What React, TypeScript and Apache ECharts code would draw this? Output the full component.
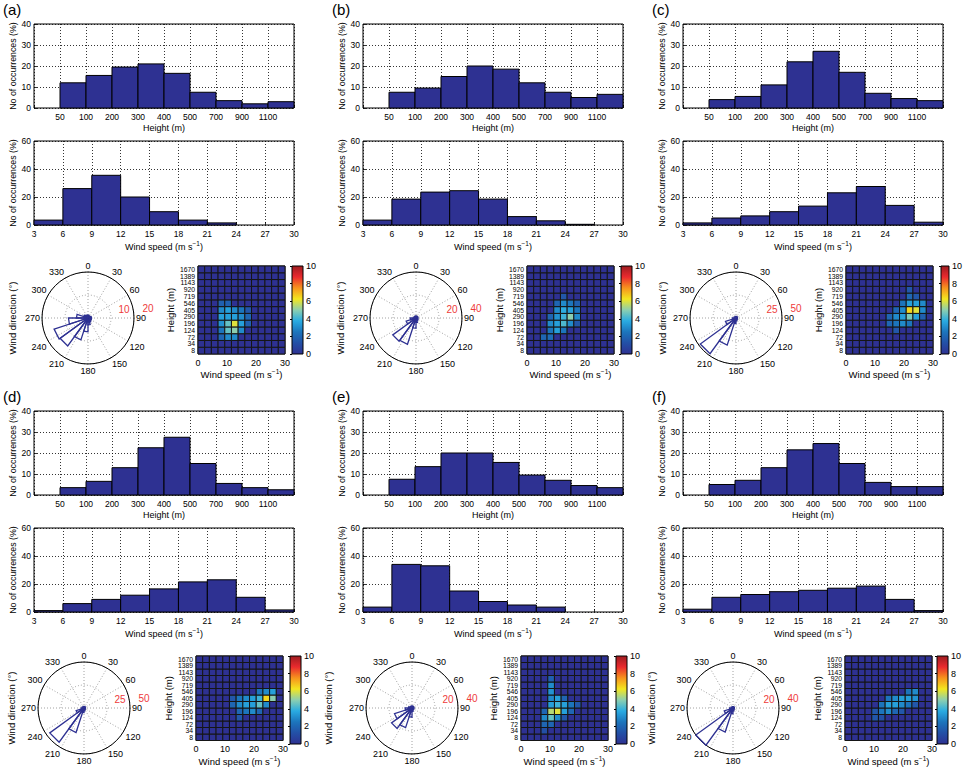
import React, { useEffect, useRef } from "react";
import * as echarts from "echarts";

const FONT = '"Liberation Sans", Arial, Helvetica, sans-serif';
const BAR_COLOR = "#2e3192";
const JET_COLORS = ["#2e3192", "#2350a6", "#1c75bc", "#29abe2", "#8ccfb0", "#f3e620", "#f7941d", "#ea2a2e", "#9e1c20"];

const PANEL_LABELS = ["(a)", "(b)", "(c)", "(d)", "(e)", "(f)"];
const HEIGHT_BIN_EDGES = ["50", "100", "200", "300", "400", "500", "700", "900", "1100"];
const WIND_BIN_STARTS = [3, 6, 9, 12, 15, 18, 21, 24, 27];
const HEAT_HEIGHTS = ["8", "34", "72", "124", "196", "290", "405", "546", "719", "920", "1143", "1389", "1670"];
const HEAT_COLS = 13;
const HEAT_BG = 0;
const ROSE_BIN_DEG = 18;

// Height histograms (% per bin: <50, 50-100, 100-200, ..., >1100)
const HEIGHT_HIST_A = [0, 12, 15.5, 19.5, 21, 16.5, 7.5, 3.5, 2, 3];
const HEIGHT_HIST_B = [0, 7.5, 9.5, 15, 20, 18.5, 12, 7.5, 5, 6.5];
const HEIGHT_HIST_C = [0, 4, 5.5, 11, 22, 27, 17, 7, 4.5, 3.5];
const HEIGHT_HIST_D = [0, 3.5, 6.5, 13, 22.5, 27.5, 15, 5.5, 3.5, 2.5];
const HEIGHT_HIST_E = [0, 7.5, 13.5, 20, 20, 15.5, 9.5, 7, 4.5, 3.5];
const HEIGHT_HIST_F = [0, 5, 7, 13, 21.5, 24.5, 15, 6, 4, 4];

// Wind speed histograms (% per 3 m/s bin from 3 to 30)
const WIND_HIST_A = [3.5, 26, 35.5, 20, 9.5, 3.5, 1.5, 0, 0];
const WIND_HIST_B = [3.5, 18.5, 23.5, 24.5, 18.5, 6, 3, 0.5, 0];
const WIND_HIST_C = [1.5, 5, 6.5, 9.5, 13.5, 23, 27.5, 14, 2];
const WIND_HIST_D = [1, 6, 9, 12, 16.5, 21.5, 23, 10.5, 1.5];
const WIND_HIST_E = [3.5, 34, 33, 15, 7.5, 5, 3.5, 0, 0];
const WIND_HIST_F = [2, 10.5, 12.5, 14.5, 15.5, 17, 18.5, 9, 1];

// Wind roses: 20 bins of 18 degrees starting at 0
const ROSE_A = [1.2, 1, 1, 1.2, 1.5, 1.5, 1.5, 1.5, 2, 3, 6, 10, 15, 15.5, 8.5, 5, 2, 1.5, 1.2, 1.2];
const ROSE_B = [1.5, 1.5, 1.5, 1.5, 1.5, 1.5, 1.5, 2, 2.5, 4, 9, 24, 25, 9, 5, 2, 1.5, 1.5, 1.5, 1.5];
const ROSE_C = [1.5, 1.5, 1.5, 1.5, 1.5, 1.5, 1.5, 1.5, 2, 3, 6, 31, 48, 12, 4, 2, 1.5, 1.5, 1.5, 1.5];
const ROSE_D = [1.5, 1.5, 1.5, 1.5, 1.5, 1.5, 1.5, 1.5, 2, 3, 5, 28, 46, 9, 3, 2, 1.5, 1.5, 1.5, 1.5];
const ROSE_E = [1.5, 1.5, 1.5, 1.5, 1.5, 1.5, 1.5, 1.5, 2, 3, 8, 18, 22, 16, 6, 3, 2, 1.5, 1.5, 1.5];
const ROSE_F = [1, 1, 1, 1, 1, 1, 1, 1, 1.5, 2.5, 5, 22, 40, 8, 3, 1.5, 1, 1, 1, 1];
const ROSE_MAX = [20, 40, 50, 50, 40, 40];

// Joint frequency cells: [wind column, height row (from bottom), value]
const HEAT_A = [
  [3, 7, 1.8], [4, 7, 1.8],
  [3, 6, 3], [4, 6, 3.5], [5, 6, 3], [6, 6, 2.5], [7, 6, 1.5],
  [3, 5, 3.5], [4, 5, 3.5], [5, 5, 3.5], [6, 5, 3], [7, 5, 2],
  [3, 4, 3.2], [4, 4, 4.5], [5, 4, 6], [6, 4, 3.5], [7, 4, 1.8],
  [3, 3, 2.5], [4, 3, 4.5], [5, 3, 5], [6, 3, 3],
  [3, 2, 2], [4, 2, 3], [5, 2, 3],
];
const HEAT_B = [
  [5, 8, 1.5],
  [4, 7, 2], [5, 7, 3], [6, 7, 2.5], [7, 7, 1.8],
  [4, 6, 3], [5, 6, 3.8], [6, 6, 3.5], [7, 6, 2.5],
  [3, 5, 2], [4, 5, 3.2], [5, 5, 4], [6, 5, 5], [7, 5, 3],
  [3, 4, 3], [4, 4, 3.5], [5, 4, 4.2], [6, 4, 3], [7, 4, 1.5],
  [3, 3, 2.5], [4, 3, 3.5], [5, 3, 2.5],
  [2, 2, 2], [3, 2, 2.2],
];
const HEAT_C = [
  [9, 9, 1.5],
  [9, 8, 2], [10, 8, 1.5],
  [8, 7, 2.5], [9, 7, 3.5], [10, 7, 3.5], [11, 7, 3],
  [7, 6, 2], [8, 6, 3], [9, 6, 6.5], [10, 6, 6], [11, 6, 3],
  [6, 5, 2], [7, 5, 3], [8, 5, 3.5], [9, 5, 4.8], [10, 5, 3.5], [11, 5, 1.8],
  [6, 4, 2], [7, 4, 2.5], [8, 4, 3], [9, 4, 2.5],
  [7, 3, 1.5],
];
const HEAT_D = [
  [9, 7, 2.5], [10, 7, 3], [11, 7, 3.5],
  [5, 6, 1.5], [6, 6, 2.5], [7, 6, 3], [8, 6, 3.5], [9, 6, 4], [10, 6, 6.5], [11, 6, 5],
  [5, 5, 2], [6, 5, 3], [7, 5, 3.5], [8, 5, 3.5], [9, 5, 4.5], [10, 5, 3],
  [6, 4, 2], [7, 4, 2.5], [8, 4, 3], [9, 4, 2],
  [6, 3, 1.5],
];
const HEAT_E = [
  [4, 9, 1.8],
  [4, 8, 3],
  [4, 7, 3.2],
  [4, 6, 3], [5, 6, 3.5], [6, 6, 2],
  [4, 5, 3.5], [5, 5, 4], [6, 5, 3.5], [7, 5, 2.5], [8, 5, 1.5],
  [3, 4, 2], [4, 4, 5.5], [5, 4, 6], [6, 4, 3.5], [7, 4, 2],
  [3, 3, 3], [4, 3, 4.5], [5, 3, 3], [6, 3, 1.5],
  [3, 2, 2], [4, 2, 2],
  [3, 1, 1.2],
];
const HEAT_F = [
  [9, 7, 2.5], [10, 7, 3],
  [6, 6, 2.5], [7, 6, 3], [8, 6, 3.5], [9, 6, 3.5], [10, 6, 3.2],
  [5, 5, 2.5], [6, 5, 3.5], [7, 5, 3.5], [8, 5, 3], [9, 5, 2.5], [10, 5, 1.5],
  [4, 4, 1.5], [5, 4, 2.5], [6, 4, 3], [7, 4, 2], [8, 4, 1.5],
  [4, 3, 1.5], [5, 3, 1.2],
];

const PANELS = [
  { heightHist: HEIGHT_HIST_A, windHist: WIND_HIST_A, rose: ROSE_A, heat: HEAT_A },
  { heightHist: HEIGHT_HIST_B, windHist: WIND_HIST_B, rose: ROSE_B, heat: HEAT_B },
  { heightHist: HEIGHT_HIST_C, windHist: WIND_HIST_C, rose: ROSE_C, heat: HEAT_C },
  { heightHist: HEIGHT_HIST_D, windHist: WIND_HIST_D, rose: ROSE_D, heat: HEAT_D },
  { heightHist: HEIGHT_HIST_E, windHist: WIND_HIST_E, rose: ROSE_E, heat: HEAT_E },
  { heightHist: HEIGHT_HIST_F, windHist: WIND_HIST_F, rose: ROSE_F, heat: HEAT_F },
];

// Layout
const COL_X = [0, 329, 649];
const ROW_Y = [0, 387];
const HEAT_LEFT = [[198, 527, 846], [196, 521, 845]];
const HEAT_TOP = [266, 656];
const CBAR_LEFT = [[292, 621, 941], [290, 616, 937]];
const ROSE_CX = [[88, 416, 736], [84, 412, 733]];
const ROSE_CY = [318, 708];
const ROSE_R = 46;
const WDIR_LABEL_X = [[12, 340, 662], [11, 328, 651]];

const txt = (size: number) => ({ fontFamily: FONT, fontSize: size, color: "#000" });
const dotted = { show: true, lineStyle: { color: "#000", type: [1, 2], width: 0.8 } };
const inTick = { show: true, inside: true, length: 3, lineStyle: { color: "#000", width: 0.8 } };

function renderBar(params: any, api: any) {
  const x0 = api.value(0), x1 = api.value(1), v = api.value(2);
  if (!(v > 0)) return { type: "group", children: [] };
  const p0 = api.coord([x0, 0]);
  const p1 = api.coord([x1, v]);
  return {
    type: "rect",
    shape: { x: p0[0], y: p1[1], width: p1[0] - p0[0], height: p0[1] - p1[1] },
    style: { fill: BAR_COLOR, stroke: "#000", lineWidth: 1 },
  };
}

function renderCell(params: any, api: any) {
  const col = api.value(0), row = api.value(1);
  const w = 30 / HEAT_COLS;
  const pA = api.coord([col * w, row]);
  const pB = api.coord([(col + 1) * w, row]);
  const h = api.size([0, 1])[1];
  return {
    type: "rect",
    shape: { x: pA[0], y: pA[1] - h / 2, width: pB[0] - pA[0], height: h },
    style: { fill: api.visual("color"), stroke: "#151515", lineWidth: 1 },
  };
}

function renderColorbar(params: any, api: any) {
  const p0 = api.coord([api.value(0), api.value(1)]);
  const p1 = api.coord([api.value(2), api.value(3)]);
  const stops = JET_COLORS.map((c, k) => ({ offset: k / (JET_COLORS.length - 1), color: c }));
  return {
    type: "rect",
    shape: { x: p0[0], y: p1[1], width: p1[0] - p0[0], height: p0[1] - p1[1] },
    style: { fill: { type: "linear", x: 0, y: 1, x2: 0, y2: 0, colorStops: stops, global: false } },
  };
}

function renderWedge(params: any, api: any) {
  const v = api.value(0), a = api.value(1);
  if (!(v > 0)) return { type: "group", children: [] };
  const c = api.coord([0, a]);
  const p1 = api.coord([v, a]);
  const p2 = api.coord([v, a + ROSE_BIN_DEG]);
  return {
    type: "polygon",
    shape: { points: [c, p1, p2] },
    style: { fill: "none", stroke: BAR_COLOR, lineWidth: 1.3 },
  };
}

function buildOption() {
  const grid: any[] = [], xAxis: any[] = [], yAxis: any[] = [], series: any[] = [];
  const polar: any[] = [], angleAxis: any[] = [], radiusAxis: any[] = [], graphic: any[] = [];
  const heatSeries: number[] = [];

  PANELS.forEach((p, i) => {
    const c = i % 3, r = Math.floor(i / 3);
    const dx = COL_X[c], dy = ROW_Y[r];

    // Height histogram
    let g = grid.length;
    grid.push({ left: 34 + dx, top: 24 + dy, width: 260, height: 84, show: true, borderColor: "#000", borderWidth: 1 });
    xAxis.push({
      gridIndex: g, type: "value", min: 0, max: 10, interval: 1,
      axisLine: { show: false }, axisTick: inTick, splitLine: dotted,
      axisLabel: { ...txt(8.5), margin: 4, showMinLabel: true, showMaxLabel: true, formatter: (v: number) => HEIGHT_BIN_EDGES[v - 1] ?? "" },
      name: "Height (m)", nameLocation: "middle", nameGap: 15, nameTextStyle: txt(9),
    });
    yAxis.push({
      gridIndex: g, type: "value", min: 0, max: 40, interval: 10,
      axisLine: { show: false }, axisTick: inTick, splitLine: dotted,
      axisLabel: { ...txt(8.5), margin: 3, showMinLabel: true, showMaxLabel: true },
      name: "No of occurrences (%)", nameLocation: "middle", nameGap: 16, nameTextStyle: txt(8.8),
    });
    series.push({
      type: "custom", xAxisIndex: g, yAxisIndex: g, renderItem: renderBar, silent: true,
      encode: { x: [0, 1], y: 2 },
      data: p.heightHist.map((v, k) => [k, k + 1, v]),
    });

    // Wind speed histogram
    g = grid.length;
    grid.push({ left: 34 + dx, top: 141 + dy, width: 260, height: 84, show: true, borderColor: "#000", borderWidth: 1 });
    xAxis.push({
      gridIndex: g, type: "value", min: 3, max: 30, interval: 3,
      axisLine: { show: false }, axisTick: inTick, splitLine: dotted,
      axisLabel: { ...txt(8.5), margin: 4, showMinLabel: true, showMaxLabel: true },
      name: "Wind speed (m s{sup|\u22121})", nameLocation: "middle", nameGap: 15,
      nameTextStyle: { ...txt(9), rich: { sup: { ...txt(6.5), padding: [0, 0, 6, 0] } } },
    });
    yAxis.push({
      gridIndex: g, type: "value", min: 0, max: 60, interval: 20,
      axisLine: { show: false }, axisTick: inTick, splitLine: dotted,
      axisLabel: { ...txt(8.5), margin: 3, showMinLabel: true, showMaxLabel: true },
      name: "No of occurrences (%)", nameLocation: "middle", nameGap: 16, nameTextStyle: txt(8.8),
    });
    series.push({
      type: "custom", xAxisIndex: g, yAxisIndex: g, renderItem: renderBar, silent: true,
      encode: { x: [0, 1], y: 2 },
      data: WIND_BIN_STARTS.map((s, k) => [s, s + 3, p.windHist[k]]),
    });

    // Heat map
    g = grid.length;
    grid.push({ left: HEAT_LEFT[r][c], top: HEAT_TOP[r], width: 87, height: 88, show: true, borderColor: "#000", borderWidth: 1 });
    xAxis.push({
      gridIndex: g, type: "value", min: 0, max: 30, interval: 10,
      axisLine: { show: false }, axisTick: { show: false }, splitLine: { show: false },
      axisLabel: { ...txt(9), margin: 4, showMinLabel: true, showMaxLabel: true },
      name: "Wind speed (m s{sup|\u22121})", nameLocation: "middle", nameGap: 14,
      nameTextStyle: { ...txt(9.5), rich: { sup: { ...txt(6.5), padding: [0, 0, 6, 0] } } },
    });
    yAxis.push({
      gridIndex: g, type: "category", data: HEAT_HEIGHTS,
      axisLine: { show: false }, axisTick: { show: false }, splitLine: { show: false },
      axisLabel: { ...txt(6.8), margin: 3, interval: 0 },
      name: "Height (m)", nameLocation: "middle", nameGap: 20, nameTextStyle: txt(9.5),
    });
    const cells: number[][] = [];
    for (let row = 0; row < HEAT_HEIGHTS.length; row++) {
      for (let col = 0; col < HEAT_COLS; col++) {
        const hit = p.heat.find((h) => h[0] === col && h[1] === row);
        cells.push([col, row, hit ? hit[2] : HEAT_BG]);
      }
    }
    heatSeries.push(series.length);
    series.push({
      type: "custom", xAxisIndex: g, yAxisIndex: g, renderItem: renderCell, silent: true,
      encode: { x: 0, y: 1 }, data: cells,
    });

    // Colour bar
    g = grid.length;
    grid.push({ left: CBAR_LEFT[r][c], top: HEAT_TOP[r], width: 11, height: 88, show: true, borderColor: "#000", borderWidth: 1, z: 3 });
    xAxis.push({ gridIndex: g, type: "value", min: 0, max: 1, show: false });
    yAxis.push({
      gridIndex: g, type: "value", min: 0, max: 10, interval: 2, position: "right",
      axisLine: { show: false }, axisTick: { show: true, inside: true, length: 2, lineStyle: { color: "#000" } }, splitLine: { show: false },
      axisLabel: { ...txt(9), margin: 3, showMinLabel: true, showMaxLabel: true },
    });
    series.push({
      type: "custom", xAxisIndex: g, yAxisIndex: g, renderItem: renderColorbar, silent: true,
      encode: { x: [0, 2], y: [1, 3] }, data: [[0, 0, 1, 10]],
    });

    // Wind rose
    const pi = polar.length;
    const cx = ROSE_CX[r][c], cy = ROSE_CY[r];
    const rmax = ROSE_MAX[i];
    polar.push({ center: [cx, cy], radius: ROSE_R });
    angleAxis.push({
      polarIndex: pi, type: "value", startAngle: 90, clockwise: true, min: 0, max: 360, interval: 30,
      axisLine: { show: true, lineStyle: { color: "#000", width: 1 } },
      axisTick: { show: false },
      axisLabel: { ...txt(9), margin: 2, formatter: (v: number) => (v >= 360 ? "" : String(v)) },
      splitLine: { show: true, lineStyle: { color: "#8a8a8a", type: [1, 2], width: 0.8 } },
    });
    radiusAxis.push({
      polarIndex: pi, type: "value", min: 0, max: rmax, interval: rmax / 2,
      axisLine: { show: false }, axisTick: { show: false }, axisLabel: { show: false },
      splitLine: { show: true, lineStyle: { color: "#8a8a8a", type: [1, 2], width: 0.8 } },
    });
    series.push({
      type: "custom", coordinateSystem: "polar", polarIndex: pi, renderItem: renderWedge, silent: true,
      data: p.rose.map((v, k) => [v, k * ROSE_BIN_DEG]),
    });

    // Texts
    graphic.push({ type: "text", x: dx + 3, y: dy + 2, style: { text: PANEL_LABELS[i], fontFamily: FONT, fontSize: 15, fill: "#000" } });
    graphic.push({
      type: "text", x: WDIR_LABEL_X[r][c], y: cy, rotation: Math.PI / 2,
      style: { text: "Wind direction (\u00b0)", fontFamily: FONT, fontSize: 9.5, fill: "#000", align: "center", verticalAlign: "middle", textAlign: "center", textVerticalAlign: "middle" },
    });
    graphic.push({
      type: "text", x: cx + 36, y: cy - 9,
      style: { text: String(rmax / 2), fontFamily: FONT, fontSize: 10, fill: "#ee3b3b", align: "center", verticalAlign: "middle", textAlign: "center", textVerticalAlign: "middle" },
    });
    graphic.push({
      type: "text", x: cx + 60, y: cy - 10,
      style: { text: String(rmax), fontFamily: FONT, fontSize: 10, fill: "#ee3b3b", align: "center", verticalAlign: "middle", textAlign: "center", textVerticalAlign: "middle" },
    });
  });

  return {
    animation: false,
    backgroundColor: "#fff",
    textStyle: { fontFamily: FONT },
    grid, xAxis, yAxis, polar, angleAxis, radiusAxis, series, graphic,
    visualMap: {
      type: "continuous", show: false, min: 0, max: 10, dimension: 2,
      seriesIndex: heatSeries, inRange: { color: JET_COLORS },
    },
  };
}

export default function App() {
  const ref = useRef<HTMLDivElement>(null);
  useEffect(() => {
    if (!ref.current) return;
    const chart = echarts.init(ref.current, null, { renderer: "svg" });
    chart.setOption(buildOption() as any);
    return () => chart.dispose();
  }, []);
  return (
    <div
      ref={ref}
      style={{ position: "absolute", left: 0, top: 0, width: 965, height: 767, background: "#fff" }}
    />
  );
}
